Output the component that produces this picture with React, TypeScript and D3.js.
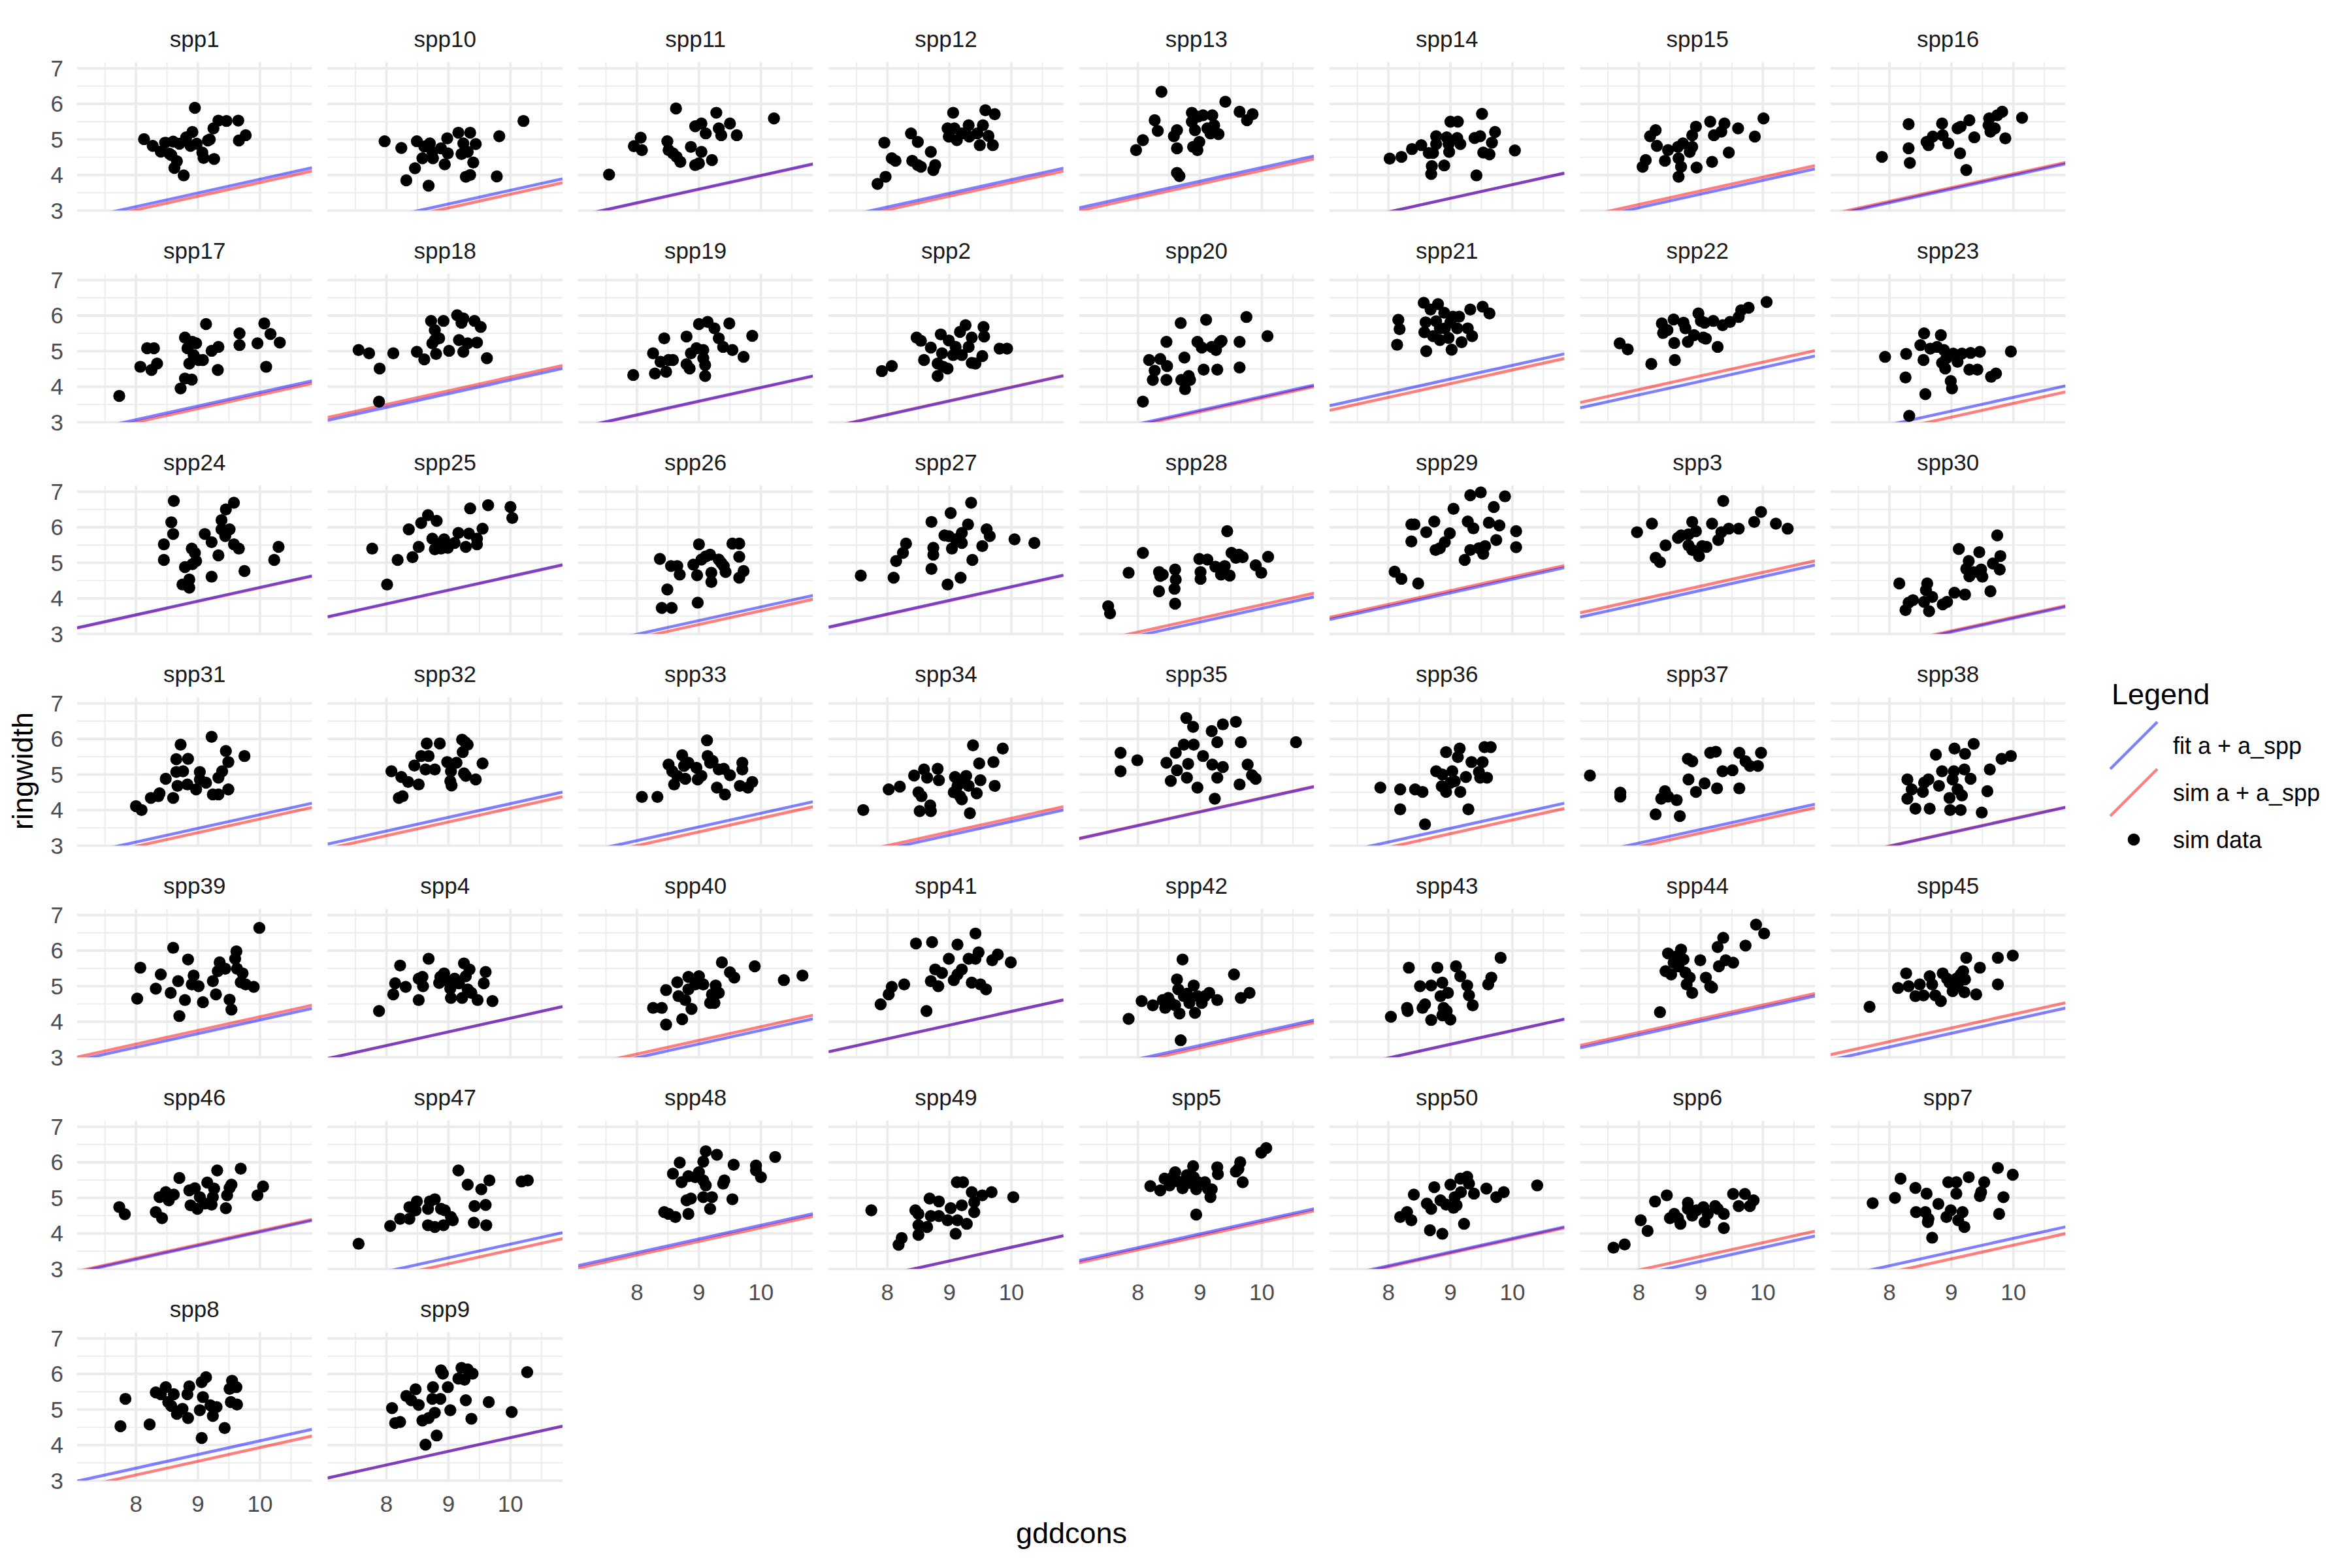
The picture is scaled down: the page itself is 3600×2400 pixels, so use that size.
import React from "react";
import * as d3 from "d3";

const species = ["spp1","spp10","spp11","spp12","spp13","spp14","spp15","spp16","spp17","spp18","spp19","spp2","spp20","spp21","spp22","spp23","spp24","spp25","spp26","spp27","spp28","spp29","spp3","spp30","spp31","spp32","spp33","spp34","spp35","spp36","spp37","spp38","spp39","spp4","spp40","spp41","spp42","spp43","spp44","spp45","spp46","spp47","spp48","spp49","spp5","spp50","spp6","spp7","spp8","spp9"];

// intercepts of "fit a + a_spp" and "sim a + a_spp" lines (common slope)
const fitIntercept = [0.03,-0.28,0.14,0.02,0.36,-0.12,0.00,0.14,
  -0.01,0.34,0.13,0.13,-0.13,0.75,0.69,-0.15,
  0.46,0.77,-0.09,0.48,-0.13,0.69,0.76,-0.41,
  0.02,0.33,0.06,-0.17,0.48,0.02,-0.01,-0.10,
  0.20,0.25,-0.09,0.44,-0.13,-0.10,0.55,0.21,
  0.19,-0.15,0.38,-0.24,0.52,0.01,-0.25,0.01,
  0.27,0.36];
const simIntercept = [-0.06,-0.39,0.13,-0.06,0.28,-0.12,0.09,0.18,
  -0.08,0.42,0.12,0.14,-0.17,0.62,0.84,-0.32,
  0.45,0.76,-0.20,0.47,-0.03,0.75,0.88,-0.38,
  -0.10,0.20,-0.08,-0.08,0.49,-0.13,-0.11,-0.09,
  0.29,0.25,0.01,0.44,-0.20,-0.10,0.62,0.36,
  0.22,-0.32,0.31,-0.24,0.46,-0.02,-0.11,-0.18,
  0.08,0.36];
const fitSlope = 0.385;
const simSlope = 0.385;

const xDomain = [7.05, 10.84];
const yDomain = [3, 7.17];
const xMajor = [8, 9, 10];
const xMinor = [7.5, 8.5, 9.5, 10.5];
const yMajor = [3, 4, 5, 6, 7];
const yMinor = [3.5, 4.5, 5.5, 6.5];

const legendLabels = ["fit a + a_spp", "sim a + a_spp", "sim data"];

// sim data: [gddcons, ringwidth]
const spp1 = [[8.13,5.01],[8.27,4.82],[8.40,4.66],[8.47,4.91],[8.54,4.60],[8.60,4.94],[8.66,4.39],[8.62,4.20],[8.77,3.99],[8.70,4.88],[8.81,5.06],[8.88,4.82],[8.91,5.21],[8.95,5.89],[8.98,4.88],[9.07,4.63],[9.09,4.48],[9.16,4.97],[9.19,5.00],[9.25,5.31],[9.26,4.45],[9.33,5.53],[9.46,5.52],[9.65,5.53],[9.66,4.97],[9.77,5.12],[8.57,4.56]];
const spp10 = [[7.97,4.95],[8.24,4.76],[8.32,3.85],[8.46,4.19],[8.49,4.95],[8.58,4.47],[8.61,4.80],[8.68,3.70],[8.70,4.89],[8.74,4.65],[8.75,4.47],[8.88,4.75],[8.94,4.30],[8.98,5.03],[8.99,4.61],[9.16,5.19],[9.21,4.59],[9.24,4.89],[9.28,3.95],[9.31,4.65],[9.35,4.00],[9.35,5.19],[9.40,4.35],[9.44,4.87],[9.78,3.96],[9.82,5.09],[10.21,5.52]];
const spp11 = [[7.55,4.01],[7.95,4.81],[8.06,5.05],[8.08,4.70],[8.49,4.95],[8.51,4.70],[8.58,4.61],[8.63,5.87],[8.64,4.51],[8.70,4.37],[8.87,4.79],[8.94,5.37],[8.94,4.28],[9.04,5.45],[9.11,5.17],[9.04,4.65],[9.00,4.33],[9.21,4.42],[9.28,5.75],[9.32,5.31],[9.36,5.12],[9.50,5.45],[9.61,5.12],[10.21,5.59]];
const spp12 = [[7.84,3.75],[7.97,3.95],[7.95,4.91],[8.07,4.47],[8.13,4.40],[8.38,5.17],[8.40,4.40],[8.49,4.93],[8.49,4.28],[8.54,4.23],[8.70,4.65],[8.74,4.14],[8.77,4.28],[8.97,5.31],[8.99,5.08],[9.06,5.75],[9.08,5.31],[9.12,4.98],[9.20,5.17],[9.31,5.40],[9.32,5.08],[9.45,5.17],[9.49,4.84],[9.54,5.40],[9.58,5.82],[9.63,5.10],[9.70,4.84],[9.73,5.71]];
const spp13 = [[7.97,4.70],[8.08,4.98],[8.27,5.54],[8.32,5.24],[8.38,6.34],[8.58,5.09],[8.63,5.26],[8.63,4.75],[8.63,4.06],[8.67,3.97],[8.87,5.75],[8.87,5.50],[8.89,4.79],[8.92,5.26],[8.96,4.70],[8.97,5.64],[8.99,4.93],[9.05,5.68],[9.12,5.31],[9.17,5.17],[9.20,5.68],[9.23,5.40],[9.30,5.15],[9.41,6.06],[9.64,5.78],[9.76,5.54],[9.85,5.71]];
const spp14 = [[8.02,4.46],[8.21,4.51],[8.38,4.73],[8.53,4.84],[8.65,4.62],[8.72,4.62],[8.77,5.09],[8.77,4.87],[8.70,4.25],[8.69,4.03],[8.90,4.27],[8.94,5.06],[8.97,4.87],[8.98,4.65],[9.00,5.50],[9.12,5.50],[9.11,5.04],[9.16,4.87],[9.39,5.04],[9.42,3.99],[9.48,5.09],[9.51,5.72],[9.53,4.63],[9.63,4.58],[9.67,4.91],[9.72,5.21],[10.04,4.69]];
const spp15 = [[8.06,4.23],[8.11,4.42],[8.18,5.09],[8.27,5.26],[8.29,4.82],[8.42,4.40],[8.47,4.70],[8.63,4.79],[8.64,4.47],[8.64,3.95],[8.68,4.23],[8.71,4.89],[8.82,4.65],[8.86,5.12],[8.92,5.36],[8.93,4.21],[9.15,5.50],[9.18,4.37],[9.21,5.12],[9.33,5.22],[9.38,5.45],[9.45,4.63],[9.60,5.31],[9.87,5.08],[10.01,5.59],[8.86,4.79]];
const spp16 = [[7.88,4.51],[8.31,5.43],[8.31,4.75],[8.33,4.34],[8.60,4.93],[8.63,4.84],[8.70,5.08],[8.85,5.45],[8.86,5.12],[8.95,4.89],[9.10,5.31],[9.14,4.61],[9.15,5.36],[9.24,4.14],[9.29,5.54],[9.37,5.06],[9.60,5.40],[9.61,5.59],[9.63,5.22],[9.70,5.31],[9.74,5.68],[9.82,5.78],[9.87,5.03],[10.14,5.61]];
const spp17 = [[7.73,3.74],[8.07,4.56],[8.18,5.08],[8.25,4.47],[8.29,5.08],[8.34,4.65],[8.72,3.95],[8.79,5.38],[8.79,4.23],[8.86,4.65],[8.90,4.20],[8.83,5.08],[8.91,5.26],[8.97,5.22],[8.93,4.89],[9.01,4.75],[9.08,4.75],[9.13,5.76],[9.22,5.01],[9.32,4.47],[9.33,5.12],[9.67,5.50],[9.67,5.17],[9.96,5.22],[10.07,5.78],[10.10,4.56],[10.17,5.48],[10.32,5.24]];
const spp18 = [[7.55,5.03],[7.72,4.94],[7.89,4.51],[7.88,3.58],[8.11,4.94],[8.49,4.98],[8.61,4.77],[8.72,5.85],[8.78,5.59],[8.78,5.31],[8.74,5.22],[8.85,5.36],[8.80,4.92],[8.92,5.85],[9.01,5.01],[9.14,6.01],[9.24,5.92],[9.21,5.80],[9.17,5.31],[9.24,4.98],[9.31,5.22],[9.42,5.85],[9.46,5.24],[9.52,5.68],[9.62,4.80]];
const spp19 = [[7.94,4.33],[8.26,4.94],[8.29,4.37],[8.44,5.36],[8.38,4.70],[8.47,4.42],[8.51,4.75],[8.58,4.75],[8.80,5.41],[8.80,4.63],[8.85,4.51],[8.87,4.94],[8.96,5.08],[9.00,5.76],[9.14,5.82],[9.25,5.64],[9.32,5.36],[9.39,5.12],[9.49,5.78],[9.54,5.03],[9.72,4.84],[9.86,5.43],[9.07,5.03],[9.07,4.80],[9.10,4.61],[9.10,4.30]];
const spp2 = [[7.91,4.44],[8.07,4.58],[8.47,5.38],[8.54,5.29],[8.59,4.75],[8.70,5.10],[8.81,4.65],[8.81,4.30],[8.86,5.47],[8.88,4.94],[8.90,4.56],[8.97,4.51],[8.99,5.30],[9.06,4.89],[9.10,5.12],[9.17,5.54],[9.20,4.89],[9.26,5.73],[9.31,5.12],[9.36,5.38],[9.36,4.67],[9.42,4.65],[9.53,4.86],[9.55,5.68],[9.56,5.41],[9.81,5.07],[9.93,5.07]];
const spp20 = [[8.08,3.58],[8.18,4.75],[8.27,4.45],[8.24,4.19],[8.36,4.78],[8.46,5.26],[8.46,4.19],[8.47,4.58],[8.69,5.79],[8.75,4.82],[8.70,4.19],[8.76,3.93],[8.82,4.30],[8.84,4.19],[8.96,5.26],[9.03,5.10],[9.06,4.48],[9.10,5.88],[9.19,5.12],[9.26,5.03],[9.28,4.48],[9.32,5.24],[9.35,5.29],[9.64,5.26],[9.64,4.54],[9.75,5.96],[10.09,5.42]];
const spp21 = [[8.16,5.88],[8.18,5.62],[8.14,5.18],[8.57,6.36],[8.61,5.00],[8.58,5.53],[8.68,6.17],[8.80,6.32],[8.77,5.84],[8.90,6.08],[8.60,5.81],[8.72,5.42],[8.83,5.31],[8.91,5.64],[8.97,5.37],[9.02,5.04],[9.00,5.81],[9.04,5.97],[9.14,5.97],[9.11,5.64],[9.18,5.25],[9.28,5.64],[9.32,6.17],[9.35,5.42],[9.52,6.25],[9.63,6.06],[8.83,5.64]];
const spp22 = [[7.69,5.22],[7.82,5.05],[8.20,4.64],[8.37,5.78],[8.39,5.51],[8.46,5.59],[8.56,5.89],[8.57,5.23],[8.58,4.75],[8.72,5.80],[8.75,5.64],[8.79,5.26],[8.89,5.45],[8.96,6.06],[9.00,5.85],[9.04,5.38],[9.06,5.80],[9.20,5.85],[9.27,5.12],[9.35,5.73],[9.47,5.82],[9.61,5.96],[9.65,6.15],[9.77,6.22],[10.06,6.38],[9.08,5.35]];
const spp23 = [[7.93,4.84],[8.26,4.26],[8.27,4.92],[8.32,3.18],[8.50,5.17],[8.56,5.50],[8.55,4.75],[8.58,3.79],[8.66,5.07],[8.77,5.12],[8.83,5.45],[8.85,4.67],[8.90,4.51],[8.88,5.03],[8.99,4.16],[9.01,3.95],[9.03,4.93],[9.10,4.70],[9.17,4.93],[9.29,4.48],[9.31,4.95],[9.42,4.48],[9.46,4.98],[9.64,4.28],[9.72,4.37],[9.96,4.99],[8.92,4.80]];
const spp24 = [[8.61,6.74],[8.57,6.14],[8.60,5.81],[8.45,5.52],[8.45,5.08],[8.79,4.88],[8.75,4.39],[8.86,4.53],[8.86,4.30],[8.90,5.40],[8.95,5.28],[8.97,5.05],[8.91,4.96],[9.11,5.81],[9.22,5.58],[9.22,4.61],[9.33,5.21],[9.38,5.94],[9.38,6.20],[9.45,6.50],[9.58,6.69],[9.44,5.75],[9.51,5.94],[9.58,5.52],[9.66,5.40],[9.75,4.77],[10.23,5.08],[10.30,5.45]];
const spp25 = [[7.77,5.40],[8.01,4.39],[8.18,5.08],[8.36,5.94],[8.42,5.16],[8.52,5.45],[8.56,6.12],[8.67,6.34],[8.81,6.18],[8.74,5.68],[8.78,5.38],[8.85,5.52],[8.88,5.40],[8.93,5.66],[8.99,5.42],[9.10,5.56],[9.16,5.84],[9.28,5.45],[9.33,5.82],[9.35,6.53],[9.46,5.52],[9.46,5.68],[9.55,5.96],[9.64,6.62],[10.00,6.57],[10.03,6.26]];
const spp26 = [[8.37,5.11],[8.49,4.25],[8.40,3.73],[8.56,3.73],[8.55,4.91],[8.65,4.91],[8.69,4.67],[8.91,4.95],[8.97,4.65],[8.98,3.88],[9.00,5.52],[9.04,5.09],[9.11,5.18],[9.18,5.23],[9.20,4.46],[9.32,5.09],[9.36,5.00],[9.40,4.91],[9.43,4.74],[9.54,5.54],[9.65,5.54],[9.65,5.17],[9.65,4.58],[9.72,4.77],[9.20,4.72]];
const spp27 = [[7.57,4.64],[8.10,4.58],[8.14,5.05],[8.25,5.28],[8.30,5.54],[8.71,4.83],[8.74,5.42],[8.74,5.23],[8.92,5.77],[8.97,4.39],[9.04,5.40],[9.10,5.66],[9.18,4.58],[9.20,5.56],[9.20,5.84],[9.30,6.08],[9.37,5.08],[9.53,5.47],[9.60,5.94],[9.65,5.75],[10.05,5.66],[10.37,5.56],[8.99,5.75],[9.35,6.69],[9.02,6.40],[8.71,6.15]];
const spp28 = [[7.52,3.78],[7.55,3.58],[7.85,4.72],[8.08,5.28],[8.34,4.74],[8.36,4.63],[8.34,4.20],[8.40,4.67],[8.60,4.81],[8.61,4.53],[8.59,4.27],[8.60,3.85],[8.99,5.11],[9.01,4.74],[9.01,4.55],[9.12,5.09],[9.25,4.89],[9.34,4.67],[9.40,4.91],[9.44,5.89],[9.48,4.64],[9.51,5.28],[9.58,5.14],[9.63,5.23],[9.69,5.16],[9.90,4.93],[9.99,4.72],[10.10,5.17]];
const spp29 = [[8.10,4.75],[8.21,4.55],[8.48,4.42],[8.37,6.08],[8.42,6.08],[8.37,5.60],[8.61,5.86],[8.74,6.16],[8.83,5.41],[8.91,5.58],[8.99,5.83],[9.05,6.52],[9.28,6.16],[9.37,5.97],[9.32,6.90],[9.49,6.98],[9.62,6.13],[9.70,6.57],[9.79,6.05],[9.88,6.87],[10.06,5.89],[10.06,5.44],[9.23,5.08],[9.32,5.36],[9.46,5.41],[9.56,5.47],[9.53,5.25],[9.74,5.64],[8.76,5.36]];
const spp3 = [[7.97,5.86],[8.21,6.10],[8.27,5.14],[8.34,5.02],[8.43,5.49],[8.63,5.70],[8.68,5.77],[8.80,5.80],[8.80,5.49],[8.86,5.36],[8.92,5.89],[8.97,5.19],[9.02,5.47],[9.09,5.45],[9.18,6.10],[9.28,5.64],[9.33,5.86],[9.45,5.96],[9.61,5.96],[9.86,6.15],[10.21,6.10],[10.40,5.96],[9.36,6.74],[9.97,6.43],[8.86,6.15]];
const spp30 = [[8.16,4.42],[8.26,3.67],[8.31,3.88],[8.38,3.95],[8.56,3.90],[8.61,4.42],[8.59,4.23],[8.64,3.64],[8.69,4.04],[8.86,3.83],[8.93,3.90],[9.05,4.16],[9.12,5.39],[9.22,4.11],[9.24,4.83],[9.28,5.05],[9.29,4.62],[9.35,4.74],[9.42,4.74],[9.45,5.30],[9.48,4.81],[9.50,4.61],[9.63,4.20],[9.67,4.98],[9.74,5.77],[9.78,4.81],[9.79,5.19]];
const spp31 = [[8.00,4.11],[8.09,4.00],[8.24,4.34],[8.36,4.39],[8.38,4.47],[8.48,4.88],[8.60,4.34],[8.65,5.07],[8.67,4.68],[8.65,5.43],[8.72,5.84],[8.76,5.09],[8.83,4.72],[8.84,5.44],[8.97,4.58],[9.03,5.07],[9.03,4.86],[9.13,4.77],[9.22,6.06],[9.24,4.44],[9.33,4.44],[9.33,4.91],[9.39,5.09],[9.45,5.66],[9.49,5.35],[9.49,4.58],[9.75,5.52]];
const spp32 = [[8.08,5.09],[8.24,4.93],[8.20,4.34],[8.26,4.39],[8.35,4.79],[8.52,4.72],[8.45,5.25],[8.56,5.52],[8.63,5.14],[8.65,5.87],[8.68,5.52],[8.78,5.14],[8.86,5.87],[8.98,5.35],[9.03,4.81],[9.04,5.09],[9.05,4.69],[9.13,5.33],[9.22,5.98],[9.23,5.63],[9.27,5.91],[9.25,5.03],[9.31,5.84],[9.28,4.96],[9.44,4.86],[9.55,5.31]];
const spp33 = [[8.08,4.37],[8.33,4.37],[8.51,5.28],[8.57,5.09],[8.73,5.54],[8.60,4.72],[8.65,4.96],[8.76,5.24],[8.78,4.88],[8.83,5.33],[8.98,4.86],[8.96,5.19],[9.13,5.96],[9.04,4.96],[9.14,5.52],[9.18,5.33],[9.22,5.38],[9.29,4.63],[9.32,5.14],[9.40,5.16],[9.42,4.44],[9.50,4.98],[9.66,4.68],[9.70,5.33],[9.70,5.14],[9.79,4.63],[9.86,4.79]];
const spp34 = [[7.61,4.00],[8.02,4.58],[8.20,4.66],[8.43,4.97],[8.50,4.50],[8.52,3.97],[8.55,4.39],[8.59,5.14],[8.64,4.91],[8.69,4.13],[8.70,3.97],[8.81,5.16],[8.83,4.84],[9.07,4.50],[9.09,4.93],[9.13,4.68],[9.17,4.39],[9.20,4.30],[9.24,4.77],[9.27,4.96],[9.31,4.68],[9.33,3.91],[9.38,5.82],[9.44,4.47],[9.48,5.31],[9.50,4.84],[9.71,5.35],[9.73,4.68],[9.86,5.73]];
const spp35 = [[7.72,5.61],[7.72,5.09],[7.99,5.40],[8.46,5.33],[8.53,4.82],[8.61,5.61],[8.63,5.12],[8.74,5.84],[8.78,6.59],[8.79,4.91],[8.81,5.30],[8.89,6.34],[8.90,5.84],[8.96,4.63],[9.05,5.52],[9.19,6.22],[9.20,5.28],[9.24,4.32],[9.28,5.91],[9.28,4.91],[9.37,6.41],[9.37,5.21],[9.58,6.48],[9.64,4.72],[9.66,5.91],[9.77,5.28],[9.84,4.98],[9.90,4.88],[10.55,5.91]];
const spp36 = [[7.87,4.63],[8.19,4.58],[8.19,4.02],[8.43,4.58],[8.55,4.51],[8.59,3.60],[8.77,5.09],[8.86,4.67],[8.87,5.00],[8.93,5.63],[8.93,4.51],[9.00,4.77],[9.03,5.09],[9.07,4.81],[9.15,5.73],[9.12,5.49],[9.16,4.51],[9.25,4.93],[9.29,4.02],[9.34,5.35],[9.46,5.07],[9.48,4.91],[9.52,5.35],[9.55,5.77],[9.65,5.77],[9.59,4.91]];
const spp37 = [[7.21,4.97],[7.70,4.49],[7.70,4.38],[8.27,3.88],[8.36,4.32],[8.42,4.53],[8.47,4.38],[8.61,4.28],[8.66,3.83],[8.79,5.44],[8.80,4.86],[8.86,5.37],[8.92,4.51],[9.06,4.75],[9.15,5.61],[9.24,5.64],[9.26,4.61],[9.35,5.09],[9.51,5.12],[9.62,5.61],[9.62,4.61],[9.72,5.37],[9.79,5.24],[9.92,5.24],[9.97,5.61]];
const spp38 = [[8.29,4.32],[8.29,4.86],[8.36,4.58],[8.42,4.04],[8.54,4.51],[8.56,4.77],[8.63,4.86],[8.65,4.04],[8.75,5.56],[8.80,4.68],[8.85,5.09],[8.97,4.34],[8.98,4.00],[9.02,4.86],[9.05,5.73],[9.04,5.09],[9.10,4.58],[9.15,4.00],[9.17,4.41],[9.21,5.14],[9.22,5.58],[9.31,4.88],[9.36,5.86],[9.49,3.93],[9.58,4.53],[9.62,5.14],[9.81,5.44],[9.96,5.52]];
const spp39 = [[8.02,4.65],[8.07,5.52],[8.32,4.93],[8.40,5.33],[8.56,4.81],[8.60,6.08],[8.68,5.14],[8.70,4.16],[8.79,4.61],[8.84,5.75],[8.90,5.05],[8.93,5.30],[9.01,5.00],[9.08,4.55],[9.24,5.14],[9.29,4.77],[9.32,5.42],[9.35,5.67],[9.44,5.49],[9.51,4.62],[9.54,4.34],[9.60,5.77],[9.62,5.98],[9.63,5.49],[9.69,5.11],[9.72,5.36],[9.77,5.05],[9.90,4.98],[9.99,6.64]];
const spp4 = [[7.88,4.30],[8.11,4.77],[8.14,5.08],[8.22,5.58],[8.31,4.98],[8.52,4.61],[8.52,5.21],[8.58,5.26],[8.59,5.00],[8.68,5.77],[8.85,5.09],[8.87,5.26],[8.93,5.36],[8.99,5.14],[9.03,4.93],[9.04,4.67],[9.10,5.21],[9.17,5.08],[9.22,4.67],[9.25,5.64],[9.28,5.28],[9.31,4.91],[9.34,5.47],[9.37,4.81],[9.47,4.61],[9.57,5.08],[9.60,5.40],[9.71,4.58]];
const spp40 = [[8.26,4.39],[8.40,4.39],[8.47,4.89],[8.47,3.92],[8.65,5.11],[8.67,4.72],[8.73,4.07],[8.78,4.61],[8.83,5.26],[8.83,4.91],[8.88,4.36],[8.94,5.05],[9.00,5.28],[9.07,5.05],[9.21,4.77],[9.27,5.02],[9.32,4.81],[9.18,4.53],[9.25,4.53],[9.37,5.67],[9.50,5.39],[9.57,5.24],[9.90,5.56],[10.37,5.17],[10.67,5.30]];
const spp41 = [[7.89,4.49],[8.02,4.77],[8.07,4.98],[8.27,5.05],[8.46,6.20],[8.63,4.30],[8.70,5.14],[8.72,6.24],[8.77,5.47],[8.82,5.00],[8.88,5.37],[8.99,5.77],[9.07,5.17],[9.13,6.17],[9.13,5.33],[9.20,5.47],[9.31,5.77],[9.36,5.10],[9.42,6.48],[9.42,5.77],[9.47,5.95],[9.50,5.05],[9.59,4.91],[9.69,5.73],[9.78,5.89],[9.99,5.67]];
const spp42 = [[7.85,4.08],[8.06,4.58],[8.24,4.46],[8.40,4.61],[8.44,4.39],[8.49,4.67],[8.53,4.53],[8.60,4.46],[8.63,5.19],[8.65,4.91],[8.67,4.23],[8.69,3.48],[8.72,5.75],[8.74,4.72],[8.79,4.79],[8.83,4.53],[8.90,5.02],[8.92,4.25],[8.96,4.72],[9.03,4.53],[9.08,4.72],[9.15,4.81],[9.28,4.61],[9.55,5.33],[9.66,4.67],[9.80,4.81]];
const spp43 = [[8.04,4.14],[8.33,5.52],[8.30,4.39],[8.31,4.30],[8.51,5.00],[8.55,4.39],[8.69,5.02],[8.69,4.05],[8.79,5.52],[8.84,4.72],[8.87,5.10],[8.89,4.39],[8.87,4.18],[8.94,4.30],[8.96,4.81],[9.00,4.06],[9.09,5.56],[9.16,5.28],[9.27,5.02],[9.30,4.74],[9.36,4.46],[9.61,5.05],[9.66,5.24],[9.81,5.80],[8.59,4.49]];
const spp44 = [[8.34,4.27],[8.43,5.42],[8.47,5.92],[8.52,5.33],[8.56,5.66],[8.61,5.84],[8.64,5.56],[8.68,6.03],[8.72,5.75],[8.75,5.38],[8.77,5.05],[8.82,5.24],[8.86,4.81],[8.99,5.73],[9.08,5.24],[9.15,5.00],[9.18,4.96],[9.27,6.10],[9.29,5.56],[9.36,6.36],[9.40,5.73],[9.52,5.66],[9.72,6.14],[9.89,6.73],[10.02,6.48]];
const spp45 = [[7.68,4.42],[8.14,4.95],[8.27,5.36],[8.31,5.00],[8.42,4.72],[8.49,5.05],[8.55,4.74],[8.65,5.28],[8.69,5.05],[8.74,4.74],[8.83,4.58],[8.86,5.36],[8.93,5.21],[8.97,5.10],[9.02,4.86],[9.08,5.21],[9.10,5.00],[9.15,5.33],[9.19,5.42],[9.22,5.19],[9.21,4.83],[9.24,5.80],[9.40,4.77],[9.46,5.52],[9.75,5.05],[9.75,5.80],[9.99,5.86]];
const spp46 = [[7.73,4.74],[7.82,4.54],[8.32,4.60],[8.42,4.43],[8.38,5.02],[8.48,5.16],[8.53,4.93],[8.61,5.09],[8.70,5.56],[8.86,5.21],[8.88,4.79],[8.95,5.27],[8.99,4.69],[9.03,5.02],[9.11,4.84],[9.15,5.43],[9.22,4.81],[9.24,5.02],[9.26,5.26],[9.31,5.77],[9.45,4.71],[9.47,5.07],[9.51,5.28],[9.54,5.37],[9.69,5.82],[9.96,5.07],[10.05,5.32]];
const spp47 = [[7.55,3.71],[8.06,4.21],[8.22,4.41],[8.37,4.41],[8.37,4.74],[8.47,4.65],[8.49,4.90],[8.67,4.23],[8.67,4.69],[8.70,4.90],[8.78,4.18],[8.78,4.96],[8.88,4.69],[8.92,4.23],[8.94,4.65],[9.04,4.46],[9.07,4.37],[9.16,5.77],[9.31,5.37],[9.41,4.30],[9.42,4.77],[9.53,5.24],[9.60,4.80],[9.61,4.23],[9.66,5.49],[10.18,5.46],[10.28,5.49]];
const spp48 = [[8.69,5.99],[8.58,5.68],[8.72,5.44],[8.83,5.61],[8.94,5.58],[8.80,4.93],[8.87,4.98],[8.44,4.60],[8.51,4.55],[8.62,4.46],[8.83,4.55],[9.11,6.31],[9.29,6.21],[9.07,6.02],[9.00,5.72],[9.07,5.49],[9.11,5.35],[9.07,5.02],[9.18,4.69],[9.21,5.02],[9.39,5.40],[9.41,5.49],[9.54,4.96],[9.56,5.93],[9.92,5.91],[9.92,5.77],[10.00,5.58],[10.23,6.15]];
const spp49 = [[7.74,4.65],[8.18,3.68],[8.23,3.87],[8.45,4.65],[8.50,4.55],[8.50,4.23],[8.50,3.96],[8.64,4.18],[8.68,4.98],[8.70,4.49],[8.83,4.90],[8.83,4.49],[8.97,4.37],[9.02,4.71],[9.10,3.99],[9.12,5.44],[9.13,4.37],[9.20,4.79],[9.22,5.44],[9.28,4.27],[9.36,5.16],[9.40,4.88],[9.40,4.60],[9.53,5.07],[9.68,5.16],[10.03,5.02]];
const spp5 = [[8.20,5.33],[8.36,5.21],[8.43,5.54],[8.51,5.35],[8.56,5.58],[8.60,5.72],[8.65,5.46],[8.72,5.27],[8.79,5.64],[8.83,5.42],[8.89,5.89],[8.90,5.58],[8.94,5.24],[8.94,4.53],[8.97,5.44],[9.08,5.44],[9.13,5.25],[9.17,5.02],[9.19,5.24],[9.28,5.86],[9.29,5.67],[9.58,5.74],[9.65,6.00],[9.62,5.81],[9.69,5.44],[9.99,6.27],[10.07,6.40]];
const spp50 = [[8.19,4.46],[8.30,4.60],[8.37,4.37],[8.41,5.09],[8.62,4.84],[8.67,4.09],[8.69,4.69],[8.74,5.30],[8.84,4.93],[8.87,3.99],[8.93,4.81],[9.00,5.37],[9.05,4.72],[9.07,5.02],[9.10,4.79],[9.16,5.54],[9.17,5.16],[9.22,4.27],[9.27,5.59],[9.30,5.40],[9.38,5.12],[9.58,5.26],[9.74,5.02],[9.86,5.16],[10.40,5.35]];
const spp6 = [[7.59,3.60],[7.77,3.69],[8.03,4.37],[8.14,4.07],[8.26,4.90],[8.45,5.07],[8.50,4.43],[8.57,4.55],[8.63,4.43],[8.67,4.27],[8.79,4.86],[8.79,4.69],[8.86,4.50],[8.93,4.65],[9.04,4.74],[9.06,4.32],[9.11,4.55],[9.23,4.77],[9.27,4.69],[9.37,4.55],[9.37,4.15],[9.52,5.11],[9.61,4.77],[9.71,5.11],[9.79,4.77],[9.85,4.93]];
const spp7 = [[7.73,4.85],[8.09,5.00],[8.18,5.54],[8.43,4.60],[8.42,5.28],[8.58,4.60],[8.60,5.12],[8.62,4.32],[8.63,4.41],[8.69,3.88],[8.79,4.83],[8.92,4.46],[8.95,5.44],[8.99,4.65],[9.08,5.44],[9.08,5.12],[9.11,4.37],[9.18,4.60],[9.21,4.18],[9.28,5.58],[9.46,5.05],[9.48,5.16],[9.53,5.44],[9.75,5.84],[9.77,4.55],[9.84,5.02],[9.99,5.65]];
const spp8 = [[7.75,4.53],[7.83,5.30],[8.22,4.58],[8.32,5.48],[8.40,5.43],[8.48,5.63],[8.52,5.21],[8.57,5.10],[8.61,5.43],[8.66,4.88],[8.75,5.02],[8.83,5.43],[8.84,4.76],[8.86,5.65],[9.03,4.98],[9.06,5.77],[9.06,4.20],[9.08,5.35],[9.13,5.91],[9.20,5.12],[9.24,4.82],[9.30,5.07],[9.43,4.48],[9.51,5.58],[9.55,5.81],[9.53,5.21],[9.62,5.63],[9.63,5.14]];
const spp9 = [[8.09,5.04],[8.14,4.62],[8.22,4.65],[8.32,5.38],[8.40,5.26],[8.47,5.57],[8.52,5.13],[8.58,4.69],[8.63,4.01],[8.68,4.76],[8.74,5.30],[8.75,5.63],[8.78,4.91],[8.81,4.27],[8.87,5.30],[8.88,6.10],[8.91,6.01],[8.99,5.63],[9.03,4.98],[9.16,5.87],[9.21,6.17],[9.26,5.84],[9.28,5.26],[9.31,6.13],[9.37,4.74],[9.39,6.01],[9.65,5.21],[10.02,4.93],[10.27,6.05]];

const pointSets = [spp1,spp10,spp11,spp12,spp13,spp14,spp15,spp16,spp17,spp18,spp19,spp2,spp20,spp21,spp22,spp23,spp24,spp25,spp26,spp27,spp28,spp29,spp3,spp30,spp31,spp32,spp33,spp34,spp35,spp36,spp37,spp38,spp39,spp4,spp40,spp41,spp42,spp43,spp44,spp45,spp46,spp47,spp48,spp49,spp5,spp50,spp6,spp7,spp8,spp9];

const FONT = '"Liberation Sans", Arial, Helvetica, sans-serif';
const NCOL = 8;
const LEFT0 = 118;
const COLSTEP = 383.4;
const PW = 359.6;
const TOP0 = 95.3;
const ROWSTEP = 324;
const PH = 227;
const GRID = "#EBEBEB";
const TICK = "#4D4D4D";
const BLUE = "rgba(0,0,255,0.5)";
const RED = "rgba(255,0,0,0.5)";

export default function App() {
  const W = 3600, H = 2400;
  const n = species.length;

  const panels = species.map((name, i) => {
    const c = i % NCOL;
    const r = Math.floor(i / NCOL);
    const left = LEFT0 + COLSTEP * c;
    const top = TOP0 + ROWSTEP * r;
    const x = d3.scaleLinear().domain(xDomain).range([left, left + PW]);
    const y = d3.scaleLinear().domain(yDomain).range([top + PH, top]);
    const line = d3.line<number[]>().x((d) => x(d[0])).y((d) => y(d[1]));
    const abl = (a: number, b: number) => line(xDomain.map((g) => [g, a + b * g])) || "";
    const showX = i + NCOL >= n;
    const clipId = `clip-${i}`;
    return (
      <g key={name}>
        <clipPath id={clipId}>
          <rect x={left} y={top} width={PW} height={PH} />
        </clipPath>
        {xMinor.map((v) => (
          <line key={"xm" + v} x1={x(v)} x2={x(v)} y1={top} y2={top + PH} stroke={GRID} strokeWidth={1.9} />
        ))}
        {yMinor.map((v) => (
          <line key={"ym" + v} x1={left} x2={left + PW} y1={y(v)} y2={y(v)} stroke={GRID} strokeWidth={1.9} />
        ))}
        {xMajor.map((v) => (
          <line key={"xM" + v} x1={x(v)} x2={x(v)} y1={top} y2={top + PH} stroke={GRID} strokeWidth={3.8} />
        ))}
        {yMajor.map((v) => (
          <line key={"yM" + v} x1={left} x2={left + PW} y1={y(v)} y2={y(v)} stroke={GRID} strokeWidth={3.8} />
        ))}
        <g clipPath={`url(#${clipId})`}>
          <path d={abl(simIntercept[i], simSlope)} stroke={RED} strokeWidth={4.5} fill="none" />
          <path d={abl(fitIntercept[i], fitSlope)} stroke={BLUE} strokeWidth={4.5} fill="none" />
        </g>
        {pointSets[i].map((p, k) => (
          <circle key={k} cx={x(p[0])} cy={y(p[1])} r={9.2} fill="#000" />
        ))}
        <text x={left + PW / 2} y={top - 23} textAnchor="middle" fontSize={35} fill="#1A1A1A" fontFamily={FONT}>
          {name}
        </text>
        {c === 0 &&
          yMajor.map((v) => (
            <text key={"yl" + v} x={97} y={y(v) + 12.5} textAnchor="end" fontSize={35} fill={TICK} fontFamily={FONT}>
              {v}
            </text>
          ))}
        {showX &&
          xMajor.map((v) => (
            <text key={"xl" + v} x={x(v)} y={top + PH + 48} textAnchor="middle" fontSize={35} fill={TICK} fontFamily={FONT}>
              {v}
            </text>
          ))}
      </g>
    );
  });

  const legX = 3230;
  const keyH = 72;
  const keyCenters = [1141, 1213, 1285];

  return (
    <svg width={W} height={H} style={{ position: "absolute", left: 0, top: 0, display: "block" }} fontFamily={FONT}>
      <rect x={0} y={0} width={W} height={H} fill="#fff" />
      {panels}
      <text x={1640} y={2362} textAnchor="middle" fontSize={45} fill="#000" fontFamily={FONT}>
        gddcons
      </text>
      <text transform={`translate(50,1180) rotate(-90)`} textAnchor="middle" fontSize={45} fill="#000" fontFamily={FONT}>
        ringwidth
      </text>
      <text x={3232} y={1078} fontSize={45} fill="#000" fontFamily={FONT}>
        Legend
      </text>
      <line x1={legX} y1={keyCenters[0] + keyH / 2} x2={legX + keyH} y2={keyCenters[0] - keyH / 2} stroke={BLUE} strokeWidth={4.5} />
      <line x1={legX} y1={keyCenters[1] + keyH / 2} x2={legX + keyH} y2={keyCenters[1] - keyH / 2} stroke={RED} strokeWidth={4.5} />
      <circle cx={legX + keyH / 2} cy={keyCenters[2]} r={9.3} fill="#000" />
      {legendLabels.map((t, k) => (
        <text key={t} x={3326} y={keyCenters[k] + 13} fontSize={36} fill="#000" fontFamily={FONT}>
          {t}
        </text>
      ))}
    </svg>
  );
}
